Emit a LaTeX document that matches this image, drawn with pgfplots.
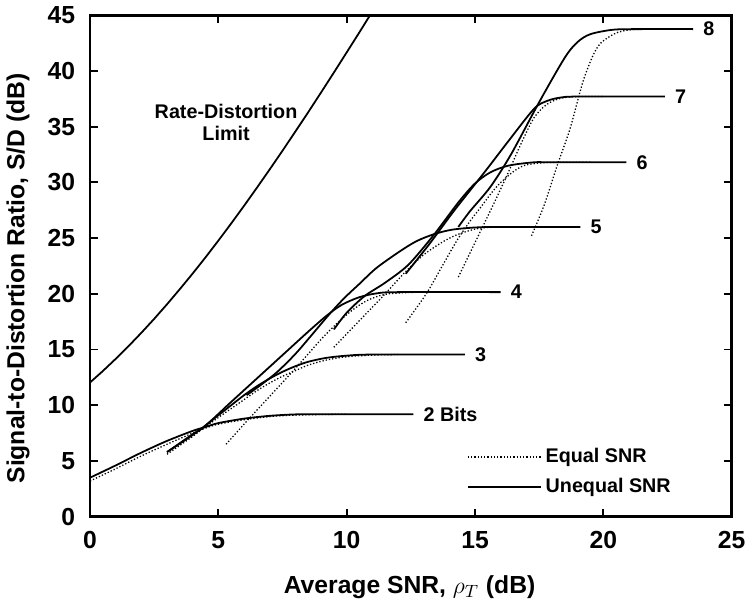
\documentclass[border=0pt]{standalone}
\usepackage{pgfplots}
\pgfplotsset{compat=1.18}
\usepackage{fontspec}
\setmainfont{Liberation Sans}

\tikzset{
  uneq/.style={black, line width=0.9pt},
  eq/.style={black, line width=0.65pt, densely dotted},
}

\begin{document}
\begin{tikzpicture}
\begin{axis}[
  name=ax,
  scale only axis,
  width=325pt, height=254pt,
  xmin=0, xmax=25, ymin=0, ymax=45,
  xtick={0,5,...,25}, ytick={0,5,...,45},
  tick align=inside,
  major tick length=4pt,
  tick style={black, line width=0.9pt},
  axis line style={line width=1.4pt},
  font=\fontsize{10}{12}\selectfont\bfseries,
  tick label style={/pgf/number format/assume math mode=true, font=\fontsize{12.5}{14}\selectfont\bfseries},
  xticklabel style={yshift=-4pt},
  yticklabel style={xshift=-4pt},
  xlabel={Average SNR, $\rho_T$ (dB)},
  ylabel={Signal-to-Distortion Ratio, S/D (dB)},
  label style={font=\fontsize{12.5}{14}\selectfont\bfseries},
  xlabel style={at={(axis description cs:0.498,-0.14)}, anchor=center},
  ylabel style={at={(axis description cs:-0.112,0.475)}, anchor=center},
  legend style={at={(0.921,0.025)}, anchor=south east, draw=none, fill=none,
    font=\fontsize{10}{12}\selectfont\bfseries, row sep=2.5pt},
  legend cell align=left,
  legend image code/.code={\draw[#1] (-5pt,0pt) -- (32pt,0pt);},
]
\addlegendimage{eq}
\addlegendentry{Equal SNR}
\addlegendimage{uneq}
\addlegendentry{Unequal SNR}

% rate-distortion limit
\addplot[uneq, forget plot] coordinates {
(0,12.04) (0.5,13.07) (1,14.16) (1.5,15.30) (2,16.50) (2.5,17.75) (3,19.06)
(3.5,20.42) (4,21.82) (4.5,23.27) (5,24.77) (5.5,26.31) (6,27.89) (6.5,29.51)
(7,31.16) (7.5,32.84) (8,34.56) (8.5,36.29) (9,38.06) (9.5,39.85) (10,41.66)
(10.5,43.48) (11,45.33)};

% ---- unequal SNR (solid)
\addplot[uneq, smooth, forget plot] coordinates {
(0,3.5) (1,4.6) (2,5.75) (3,6.8) (4,7.7) (4.5,8.05) (5,8.4) (6,8.8) (7,9.05) (8,9.18) (9,9.2) (12.6,9.2)};
\addplot[uneq, smooth, forget plot] coordinates {
(3.0,5.8) (3.5,6.6) (4,7.4) (4.4,8.0) (5,9.1) (5.5,10.0) (6,10.9) (6.5,11.7) (7,12.4)
(7.5,13.0) (8,13.5) (8.5,13.9) (9.2,14.25) (10,14.45) (11,14.55) (14.6,14.55)};
\addplot[uneq, smooth, forget plot] coordinates {
(3.0,5.8) (4.4,8.0) (5.5,10.3) (6.5,12.4) (7.5,14.5) (8.5,16.6) (9.2,18.0) (9.8,19.0)
(10.5,19.7) (11.2,20.05) (12,20.15) (16.0,20.15)};
\addplot[uneq, smooth, forget plot] coordinates {
(6.1,10.9) (6.7,11.9) (7.3,13.0) (8,14.6) (8.6,16.2) (9.3,18.1) (9.9,19.6) (10.5,20.9)
(11.15,22.3) (12,23.7) (12.7,24.7) (13.4,25.35) (14.1,25.75) (15,25.95) (16,26.0) (19.1,26.0)};
\addplot[uneq, smooth, forget plot] coordinates {
(9.5,16.8) (10.0,18.3) (10.7,19.8) (11.5,21.0) (12.4,22.6) (13.4,25.3) (14.35,28.2)
(15.0,29.9) (15.6,30.9) (16.3,31.5) (17.3,31.8) (18,31.8) (20.9,31.8)};
\addplot[uneq, smooth, forget plot] coordinates {
(12.3,21.8) (13.2,24.4) (14.2,27.5) (15.4,31.0) (16.3,33.7) (17.3,36.6) (17.8,37.3)
(18.3,37.6) (19,37.7) (22.4,37.7)};
\addplot[uneq, smooth, forget plot] coordinates {
(14.35,26.0) (14.8,27.4) (15.6,29.6) (16.4,32.5) (17.5,37.2) (18.5,41.2) (19.0,42.6)
(19.5,43.3) (20.4,43.7) (21.5,43.75) (23.5,43.75)};

% ---- equal SNR (dotted)
\addplot[eq, smooth, forget plot] coordinates {
(0,3.2) (1,4.3) (2,5.45) (3,6.5) (4,7.5) (4.5,7.95) (5,8.3) (6,8.7) (7,8.98) (8,9.12) (10,9.2)};
\addplot[eq, smooth, forget plot] coordinates {
(3.0,5.6) (3.5,6.4) (4,7.2) (4.4,7.9) (5,8.9) (5.5,9.7) (6,10.5) (6.5,11.3) (7,12.0)
(7.5,12.6) (8,13.1) (8.5,13.6) (9.2,14.05) (10,14.35) (11,14.5) (12,14.55)};
\addplot[eq, smooth, forget plot] coordinates {
(5.3,6.5) (6,8.3) (7,10.8) (8,13.3) (9,15.9) (9.6,17.3) (10.2,18.5) (10.8,19.4)
(11.5,19.95) (12.5,20.12) (13.5,20.15)};
\addplot[eq, smooth, forget plot] coordinates {
(9.5,15.2) (10.5,17.6) (11.5,20.0) (12.3,22.0) (13.0,23.5) (13.7,24.6) (14.3,25.3)
(15.1,25.85) (16,26.0) (17,26.0)};
\addplot[eq, smooth, forget plot] coordinates {
(12.3,17.4) (13.1,20.0) (13.7,22.4) (14.3,24.8) (14.8,26.5) (15.2,27.7) (15.8,29.5)
(16.4,30.8) (16.9,31.5) (17.6,31.75) (18.5,31.8) (19.5,31.8)};
\addplot[eq, smooth, forget plot] coordinates {
(14.35,21.5) (15.0,24.6) (15.65,27.7) (16.2,30.4) (16.8,33.5) (17.3,35.8) (17.8,37.0)
(18.35,37.55) (19,37.7) (20,37.7)};
\addplot[eq, smooth, forget plot] coordinates {
(17.2,25.2) (17.7,28.0) (18.2,31.5) (18.7,34.8) (19.2,39.0) (19.6,41.4) (19.9,42.5)
(20.4,43.3) (20.8,43.6) (21.4,43.75) (22.5,43.75)};

% labels
\node[anchor=west, inner sep=0pt, xshift=5pt] at (axis cs:12.6,9.2) {2 Bits};
\node[anchor=west, inner sep=0pt, xshift=5pt] at (axis cs:14.6,14.55) {3};
\node[anchor=west, inner sep=0pt, xshift=5pt] at (axis cs:16.0,20.15) {4};
\node[anchor=west, inner sep=0pt, xshift=5pt] at (axis cs:19.1,26.0) {5};
\node[anchor=west, inner sep=0pt, xshift=5pt] at (axis cs:20.9,31.8) {6};
\node[anchor=west, inner sep=0pt, xshift=5pt] at (axis cs:22.4,37.7) {7};
\node[anchor=west, inner sep=0pt, xshift=5pt] at (axis cs:23.5,43.75) {8};
\node[align=center, inner sep=0pt, font=\fontsize{10}{11}\selectfont\bfseries] at (axis cs:5.3,35.4) {Rate-Distortion\\Limit};
\end{axis}
\path ([xshift=-45pt,yshift=-42pt]ax.south west) rectangle ([xshift=6pt,yshift=7.5pt]ax.north east);
\end{tikzpicture}
\end{document}
